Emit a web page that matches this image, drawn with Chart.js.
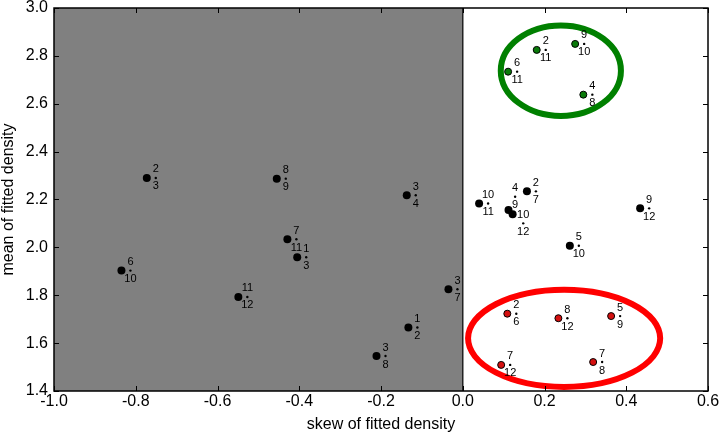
<!DOCTYPE html>
<html>
<head>
<meta charset="utf-8">
<script src="https://cdn.jsdelivr.net/npm/chart.js@4.4.1/dist/chart.umd.min.js"></script>
<style>
  html, body { margin: 0; padding: 0; background: #fff; }
  #wrap { width: 721px; height: 436px; }
</style>
</head>
<body>
<div id="wrap"><canvas id="scatter" width="721" height="436"></canvas></div>
<script>
// ticks
const xTicks = [-1.0, -0.8, -0.6, -0.4, -0.2, 0.0, 0.2, 0.4, 0.6];
const yTicks = [1.4, 1.6, 1.8, 2.0, 2.2, 2.4, 2.6, 2.8, 3.0];

// plain black points
const blackSkew = [-0.773, -0.455, -0.429, -0.405, -0.835, -0.137, -0.035, -0.549, -0.133, -0.211,
                   0.040, 0.112, 0.122, 0.157, 0.262, 0.434];
const blackMean = [2.290, 2.287, 2.034, 1.959, 1.903, 2.218, 1.825, 1.793, 1.665, 1.546,
                   2.183, 2.156, 2.138, 2.234, 2.007, 2.163];
const blackTop = ['2', '8', '7', '1', '6', '3', '3', '11', '1', '3', '10', '4', '10', '2', '5', '9'];
const blackBottom = ['3', '9', '11', '3', '10', '4', '7', '12', '2', '8', '11', '9', '12', '7', '10', '12'];

// green group
const greenSkew = [0.181, 0.275, 0.111, 0.295];
const greenMean = [2.825, 2.850, 2.734, 2.638];
const greenTop = ['2', '9', '6', '4'];
const greenBottom = ['11', '10', '11', '8'];

// red group
const redSkew = [0.109, 0.234, 0.363, 0.094, 0.319];
const redMean = [1.723, 1.704, 1.713, 1.509, 1.521];
const redTop = ['2', '8', '5', '7', '7'];
const redBottom = ['6', '12', '9', '12', '8'];

// circled groups: green, red
const ellipseCx = [0.240, 0.248];
const ellipseCy = [2.738, 1.620];
const ellipseRx = [0.147, 0.235];
const ellipseRy = [0.189, 0.203];
const ellipseColors = ['#008000', '#ff0000'];

const FONT = "'Liberation Sans', Arial, sans-serif";

function toPoints(xs, ys) {
    return xs.map((x, i) => ({x: x, y: ys[i]}));
}

// label offsets that differ from the default (dataset index - point index)
const labelShift = {
    '0-11': [6.6, -13.3],
    '0-12': [10.6, 9]
};

const backgroundPlugin = {
    id: 'skewBackground',
    beforeDatasetsDraw(chart) {
        const {ctx, chartArea, scales} = chart;
        const x0 = scales.x.getPixelForValue(-1.0);
        const x1 = scales.x.getPixelForValue(0.0);
        ctx.save();
        ctx.fillStyle = '#808080';
        ctx.fillRect(x0, chartArea.top, x1 - x0, chartArea.bottom - chartArea.top);
        ctx.strokeStyle = '#222';
        ctx.lineWidth = 1.5;
        ctx.beginPath();
        ctx.moveTo(x1, chartArea.top);
        ctx.lineTo(x1, chartArea.bottom);
        ctx.stroke();
        ctx.restore();
    },
    afterDatasetsDraw(chart) {
        const {ctx, chartArea, scales} = chart;
        ctx.save();
        ctx.beginPath();
        ctx.rect(chartArea.left, chartArea.top, chartArea.right - chartArea.left, chartArea.bottom - chartArea.top);
        ctx.clip();

        // ellipses round the groups
        for (let i = 0; i < ellipseCx.length; i++) {
            const cx = scales.x.getPixelForValue(ellipseCx[i]);
            const cy = scales.y.getPixelForValue(ellipseCy[i]);
            const rx = Math.abs(scales.x.getPixelForValue(ellipseCx[i] + ellipseRx[i]) - cx);
            const ry = Math.abs(scales.y.getPixelForValue(ellipseCy[i] + ellipseRy[i]) - cy);
            ctx.strokeStyle = ellipseColors[i];
            ctx.lineWidth = 6;
            ctx.beginPath();
            ctx.ellipse(cx, cy, rx, ry, 0, 0, Math.PI * 2);
            ctx.stroke();
        }

        // "a over b" labels next to each point
        const tops = [blackTop, greenTop, redTop];
        const bottoms = [blackBottom, greenBottom, redBottom];
        ctx.fillStyle = '#000';
        ctx.font = '11px ' + FONT;
        ctx.textAlign = 'center';
        ctx.textBaseline = 'middle';
        chart.data.datasets.forEach((ds, d) => {
            const meta = chart.getDatasetMeta(d);
            meta.data.forEach((el, i) => {
                const shift = labelShift[d + '-' + i] || [9, 0];
                const px = el.x + shift[0];
                const py = el.y + shift[1];
                ctx.beginPath();
                ctx.arc(px, py, 1.2, 0, Math.PI * 2);
                ctx.fill();
                ctx.fillText(tops[d][i], px, py - 8.5);
                ctx.fillText(bottoms[d][i], px, py + 8.5);
            });
        });
        ctx.restore();
    },
    afterDraw(chart) {
        const {ctx, chartArea, scales} = chart;
        const {left, right, top, bottom} = chartArea;
        ctx.save();
        ctx.strokeStyle = '#000';
        ctx.lineWidth = 1;
        // inward ticks on all four sides
        const tl = 5;
        ctx.beginPath();
        xTicks.forEach(v => {
            const px = Math.round(scales.x.getPixelForValue(v)) + 0.5;
            ctx.moveTo(px, bottom); ctx.lineTo(px, bottom - tl);
            ctx.moveTo(px, top); ctx.lineTo(px, top + tl);
        });
        yTicks.forEach(v => {
            const py = Math.round(scales.y.getPixelForValue(v)) + 0.5;
            ctx.moveTo(left, py); ctx.lineTo(left + tl, py);
            ctx.moveTo(right, py); ctx.lineTo(right - tl, py);
        });
        ctx.stroke();
        ctx.lineWidth = 1.5;
        ctx.strokeRect(left, top, right - left, bottom - top);
        ctx.restore();
    }
};

function fixedTicks(values) {
    return function(scale) {
        scale.ticks = values.map(v => ({value: v}));
    };
}

const config = {
    type: 'scatter',
    data: {
        datasets: [
            {
                label: 'other',
                data: toPoints(blackSkew, blackMean),
                backgroundColor: '#000',
                borderColor: '#000',
                borderWidth: 0,
                pointRadius: 4
            },
            {
                label: 'high mean',
                data: toPoints(greenSkew, greenMean),
                backgroundColor: '#0a7a0a',
                borderColor: '#000',
                borderWidth: 1,
                pointRadius: 3.5
            },
            {
                label: 'low mean',
                data: toPoints(redSkew, redMean),
                backgroundColor: '#d41010',
                borderColor: '#000',
                borderWidth: 1,
                pointRadius: 3.5
            }
        ]
    },
    options: {
        responsive: false,
        animation: false,
        layout: {padding: {left: 0, top: 8, right: 13, bottom: 0}},
        plugins: {
            legend: {display: false},
            tooltip: {enabled: false}
        },
        scales: {
            x: {
                type: 'linear',
                position: 'bottom',
                min: -1.0,
                max: 0.6,
                afterBuildTicks: fixedTicks(xTicks),
                afterFit(s) {
                    s.height = 45;
                    s.paddingLeft = 0; s.paddingRight = 0;
                },
                grid: {display: false, drawTicks: false},
                border: {display: false},
                ticks: {
                    autoSkip: false,
                    maxRotation: 0,
                    padding: 1,
                    color: '#000',
                    font: {family: FONT, size: 16},
                    callback: v => v.toFixed(1)
                },
                title: {
                    display: true,
                    text: 'skew of fitted density',
                    color: '#000',
                    font: {family: FONT, size: 16},
                    padding: {top: 0, bottom: 2}
                }
            },
            y: {
                type: 'linear',
                position: 'left',
                min: 1.4,
                max: 3.0,
                afterBuildTicks: fixedTicks(yTicks),
                afterFit(s) {
                    s.width = 54;
                    s.paddingTop = 0; s.paddingBottom = 0;
                },
                grid: {display: false, drawTicks: false},
                border: {display: false},
                ticks: {
                    autoSkip: false,
                    padding: 6,
                    color: '#000',
                    font: {family: FONT, size: 16},
                    callback: v => v.toFixed(1)
                },
                title: {
                    display: true,
                    text: 'mean of fitted density',
                    color: '#000',
                    font: {family: FONT, size: 16},
                    padding: {top: -1, bottom: 0}
                }
            }
        }
    },
    plugins: [backgroundPlugin]
};

const ctx = document.getElementById('scatter').getContext('2d');
const scatterChart = new Chart(ctx, config);
</script>
</body>
</html>
